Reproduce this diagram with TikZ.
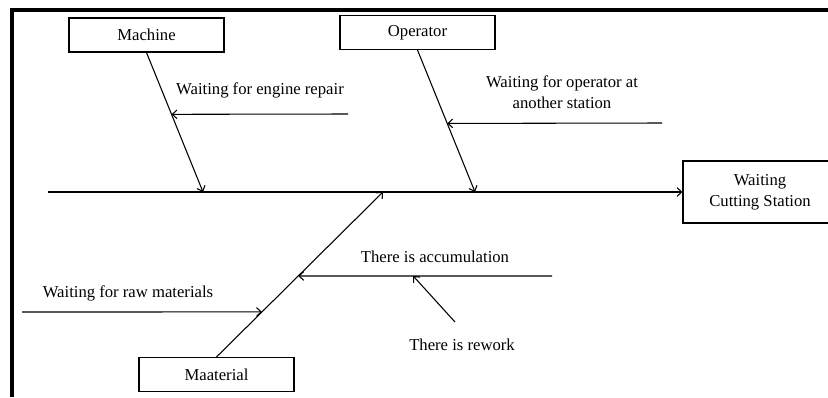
\documentclass[tikz,border=0pt]{standalone}
\usepackage{fontspec}
\setmainfont{Liberation Serif}
\usetikzlibrary{arrows.meta, positioning, calc}

\begin{document}
\begin{tikzpicture}[x=0.75pt, y=-0.75pt,
    every node/.style={font=\fontsize{12.5}{15.75}\selectfont},
    catbox/.style={draw, line width=0.8pt, inner sep=0pt, minimum width=116.25pt, minimum height=25.5pt},
    arr/.style={line width=0.8pt, -{Straight Barb[length=3.5pt, width=6.5pt]}}]
    \useasboundingbox (0,0) rectangle (828,397);
    % frame
    \draw[line width=3pt] (12,397) -- (12,10) -- (830,10);

    % category boxes and effect
    \node[catbox] (machine) at (146.5,35) {Machine};
    \node[catbox] (operator) at (417.5,32.5) {Operator};
    \node[catbox] (material) at (216.5,374.5) {Maaterial};
    \node[catbox, minimum width=115.5pt, minimum height=46.5pt, align=center] (effect) at (760,192) {Waiting\\Cutting Station};

    % spine
    \coordinate (tail) at (48,192);
    \draw[arr] (tail) -- (effect.west);

    % main branches
    \coordinate (mtip) at (203,192);
    \coordinate (otip) at (475,192);
    \coordinate (ttip) at (383,192);
    \draw[arr] (machine.south) -- (mtip) coordinate[pos=0.443] (m1);
    \draw[arr] (operator.south) -- (otip) coordinate[pos=0.517] (o1);
    \draw[arr] (material.north) -- (ttip) coordinate[pos=0.273] (t1) coordinate[pos=0.491] (t2);

    % causes
    \coordinate (engine) at (348,114);
    \coordinate (another) at (662,123);
    \coordinate (raw) at (22,312);
    \coordinate (accum) at (552,276);
    \coordinate (rework) at (455,322);
    \draw[arr] (engine) -- (m1);
    \draw[arr] (another) -- (o1);
    \draw[arr] (raw) -- (t1);
    \draw[arr] (accum) -- (t2) coordinate[pos=0.547] (a1);
    \draw[arr] (rework) -- (a1);

    % labels
    \node (enginelbl) at (260,90) {Waiting for engine repair};
    \node[align=center] (anotherlbl) at (562,92) {Waiting for operator at\\another station};
    \node (rawlbl) at (128,293) {Waiting for raw materials};
    \node (accumlbl) at (435,257) {There is accumulation};
    \node (reworklbl) at (462,345) {There is rework};
\end{tikzpicture}
\end{document}
